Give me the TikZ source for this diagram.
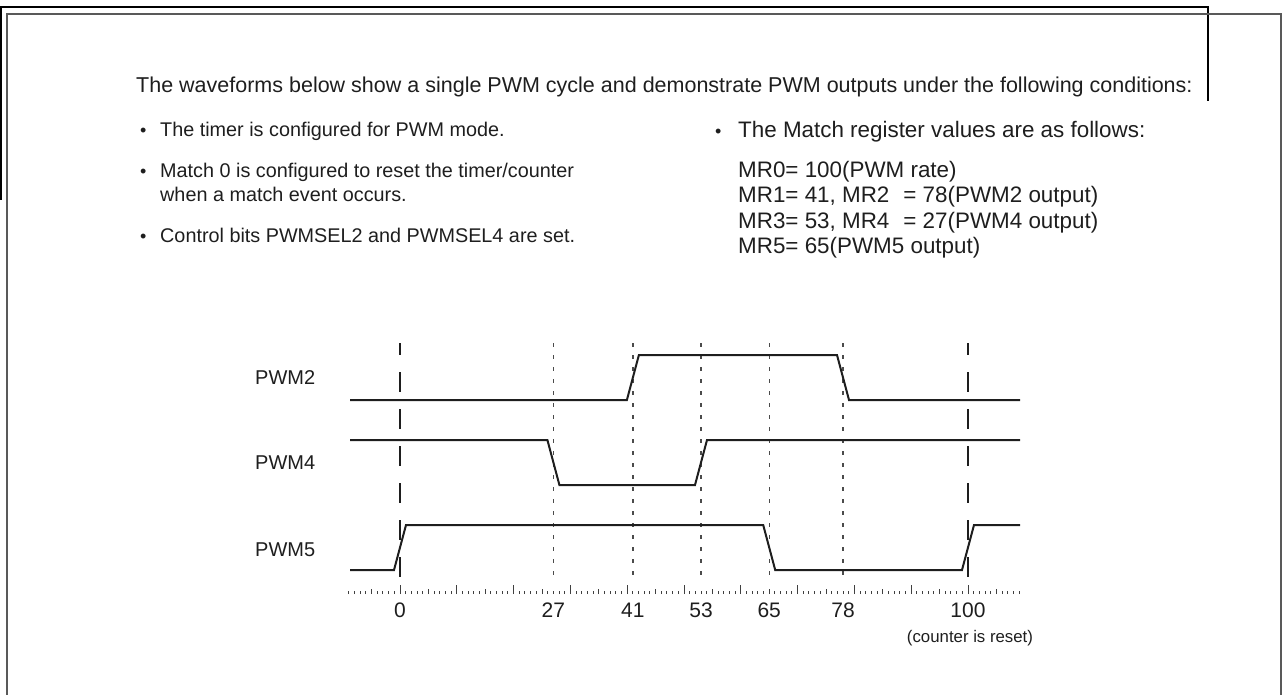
\documentclass[tikz,border=0pt]{standalone}
\usepackage{fontspec}
\setmainfont{Liberation Sans}
\definecolor{ink}{HTML}{1E1E1E}
\begin{document}
\begin{tikzpicture}[x=1pt,y=-1pt,
  txt/.style={anchor=base west,inner sep=0pt,text=ink,font=\fontsize{19.8}{24}\selectfont},
  rtxt/.style={anchor=base west,inner sep=0pt,text=ink,font=\fontsize{22.4}{27}\selectfont},
  bul/.style={anchor=base west,inner sep=0pt,text=ink,font=\fontsize{18}{22}\selectfont},
  ttl/.style={anchor=base west,inner sep=0pt,text=ink,font=\fontsize{21.5}{26}\selectfont},
  sig/.style={anchor=west,inner sep=0pt,text=ink,font=\fontsize{20}{24}\selectfont},
  num/.style={anchor=base,inner sep=0pt,text=ink,font=\fontsize{21}{25}\selectfont},
  small/.style={anchor=base,inner sep=0pt,text=ink,font=\fontsize{16.8}{20}\selectfont},
  wave/.style={line width=2pt,ink,line join=miter},
  longdash/.style={line width=1.2pt,ink,dash pattern=on 20pt off 17pt,dash phase=8pt},
  shortdash/.style={line width=1.4pt,ink!80,dash pattern=on 4pt off 8pt},
  tick/.style={line width=1pt,ink!85},
  outerframe/.style={line width=1.4pt,black},
  innerframe/.style={line width=1.8pt,black!65}
]
\useasboundingbox (0,0) rectangle (1283,695);
% frames
\draw[outerframe] (1,200) -- (1,7) -- (1208,7) -- (1208,101);
\draw[innerframe] (7,700) -- (7,14) -- (1281,14) -- (1281,700);
% texts
\node[ttl] (title) at (136,93) {The waveforms below show a single PWM cycle and demonstrate PWM outputs under the following conditions:};
\node[bul] (b1) at (140,136.5) {•};
\node[txt] (t1) at (160,137) {The timer is configured for PWM mode.};
\node[bul] (b2) at (140,177.5) {•};
\node[txt] (t2) at (160,178) {Match 0 is configured to reset the timer/counter};
\node[txt] (t2b) at (160,202) {when a match event occurs.};
\node[bul] (b3) at (140,242.5) {•};
\node[txt] (t3) at (160,243) {Control bits PWMSEL2 and PWMSEL4 are set.};
\node[bul] (b4) at (715,137.5) {•};
\node[rtxt] (t4) at (738,138) {The Match register values are as follows:};
\node[rtxt] (m0) at (738,178) {MR0= 100(PWM rate)};
\node[rtxt] (m1) at (738,203) {MR1= 41, MR2\hspace{14pt}= 78(PWM2 output)};
\node[rtxt] (m3) at (738,228.5) {MR3= 53, MR4\hspace{14pt}= 27(PWM4 output)};
\node[rtxt] (m5) at (738,254) {MR5= 65(PWM5 output)};
% signal labels
\node[sig] (l2) at (255,378) {PWM2};
\node[sig] (l4) at (255,463) {PWM4};
\node[sig] (l5) at (255,550) {PWM5};
% vertical markers
\foreach \c in {0,100}{
  \coordinate (top\c) at ({400+5.68*\c},343);
  \coordinate (bot\c) at ({400+5.68*\c},581);
  \draw[longdash] (top\c) -- (bot\c);
}
\foreach \c in {27,41,53,65,78}{
  \coordinate (top\c) at ({400+5.68*\c},343);
  \coordinate (bot\c) at ({400+5.68*\c},579);
  \draw[shortdash] (top\c) -- (bot\c);
}
% waveforms
\draw[wave] (350,400) -- (626.9,400) -- (638.9,355) -- (837.0,355) -- (849.0,400) -- (1020,400);
\draw[wave] (350,440) -- (547.4,440) -- (559.4,485) -- (695.0,485) -- (707.0,440) -- (1020,440);
\draw[wave] (350,570) -- (394,570) -- (406,525) -- (763.2,525) -- (775.2,570) -- (962,570) -- (974,525) -- (1020,525);
% ticks
\foreach \c in {-9,...,109}{
  \pgfmathsetmacro{\len}{(mod(abs(\c),10)==0) ? 9 : ((mod(abs(\c),5)==0) ? 5.5 : 3)}
  \draw[tick] ({400+5.68*\c},594) -- ({400+5.68*\c},594-\len);
}
% tick labels
\foreach \c in {0,27,41,53,65,78,100}{
  \node[num] (n\c) at ({400+5.68*\c},617) {\c};
}
\node[small] (reset) at (970,642) {(counter is reset)};
\end{tikzpicture}
\end{document}
